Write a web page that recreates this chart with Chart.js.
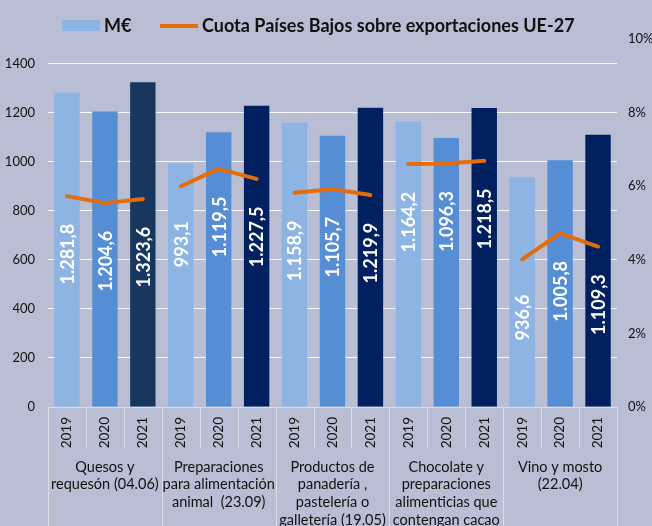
<!DOCTYPE html>
<html>
<head>
<meta charset="utf-8">
<script src="https://cdn.jsdelivr.net/npm/chart.js@4.4.1/dist/chart.umd.min.js"></script>
<style>
  html, body { margin:0; padding:0; background:#B9BED4; }
  canvas { display:block; }
</style>
</head>
<body>
<canvas id="chart" width="652" height="526"></canvas>
<script>
// data
const groups = [
  ['Quesos y', 'requesón (04.06)'],
  ['Preparaciones', 'para alimentación', 'animal  (23.09)'],
  ['Productos de', 'panadería ,', 'pastelería o', 'galletería (19.05)'],
  ['Chocolate y', 'preparaciones', 'alimenticias que', 'contengan cacao'],
  ['Vino y mosto', '(22.04)']
];
const years = ['2019', '2020', '2021'];
const valuesMEUR = [1281.8, 1204.6, 1323.6,  993.1, 1119.5, 1227.5,  1158.9, 1105.7, 1219.9,  1164.2, 1096.3, 1218.5,  936.6, 1005.8, 1109.3];
const sharePct   = [5.73, 5.54, 5.65,  6.00, 6.47, 6.20,  5.82, 5.92, 5.76,  6.60, 6.62, 6.69,  4.01, 4.72, 4.36];
const legendBar  = 'M€';
const legendLine = 'Cuota Países Bajos sobre exportaciones UE-27';

const yearColors = ['#8EB4E3', '#558ED5', '#002060'];
const ORANGE = '#E46C0A';
const TEXT = '#111111';
const SEP = '#DADCE6';

const labels = [];
groups.forEach(() => years.forEach(y => labels.push(y)));
const barColors = labels.map((l, i) => yearColors[i % 3]);
barColors[2] = '#17375E';

function fmt(v) {
  const [i, d] = v.toFixed(1).split('.');
  return i.replace(/\B(?=(\d{3})+(?!\d))/g, '.') + ',' + d;
}

const decor = {
  id: 'decor',
  afterDatasetsDraw(chart) {
    const ctx = chart.ctx;
    const yR = chart.scales.yR;
    const bars = chart.getDatasetMeta(1).data;
    ctx.save();
    ctx.fillStyle = '#FFFFFF';
    ctx.font = 'bold 18px Lato';
    ctx.textAlign = 'center';
    ctx.textBaseline = 'middle';
    bars.forEach((b, i) => {
      const cy = yR.getPixelForValue(sharePct[i]) + 58;
      ctx.save();
      ctx.translate(b.x, cy);
      ctx.rotate(-Math.PI / 2);
      ctx.fillText(fmt(valuesMEUR[i]), 0, 1);
      ctx.restore();
    });
    ctx.restore();
  },
  afterDraw(chart) {
    const ctx = chart.ctx;
    const x = chart.scales.x;
    const area = chart.chartArea;
    const half = (x.getPixelForValue(1) - x.getPixelForValue(0)) / 2;
    ctx.save();
    // axis line and separators
    ctx.strokeStyle = SEP;
    ctx.lineWidth = 1;
    ctx.beginPath();
    ctx.moveTo(area.left, area.bottom + 0.5);
    ctx.lineTo(area.right, area.bottom + 0.5);
    for (let i = 0; i <= labels.length; i++) {
      const px = Math.round(x.getPixelForValue(i) - half) + 0.5;
      const long = i % 3 === 0;
      ctx.moveTo(px, area.bottom);
      ctx.lineTo(px, long ? chart.height : area.bottom + 41);
    }
    ctx.stroke();
    // group labels
    ctx.fillStyle = TEXT;
    ctx.font = '14.5px Lato';
    ctx.textAlign = 'center';
    ctx.textBaseline = 'middle';
    groups.forEach((lines, g) => {
      const cx = x.getPixelForValue(g * 3 + 1);
      lines.forEach((t, k) => ctx.fillText(t, cx, area.bottom + 60 + k * 17.7));
    });
    // legend
    ctx.font = 'bold 18px Lato';
    ctx.textAlign = 'left';
    ctx.fillStyle = yearColors[0];
    ctx.fillRect(62, 20, 38, 11);
    ctx.fillStyle = TEXT;
    ctx.fillText(legendBar, 104, 26);
    ctx.strokeStyle = ORANGE;
    ctx.lineWidth = 4;
    ctx.beginPath();
    ctx.moveTo(160, 26);
    ctx.lineTo(198, 26);
    ctx.stroke();
    ctx.fillText(legendLine, 202, 26);
    ctx.restore();
  }
};

Chart.defaults.font.family = 'Lato';
Chart.defaults.color = TEXT;

new Chart(document.getElementById('chart'), {
  data: {
    labels: labels,
    datasets: [
      {
        type: 'line', label: legendLine, data: sharePct, yAxisID: 'yR', order: 0,
        borderColor: ORANGE, borderWidth: 4, pointRadius: 0, tension: 0,
        borderCapStyle: 'round', borderJoinStyle: 'round',
        segment: { borderColor: c => c.p0DataIndex % 3 === 2 ? 'rgba(0,0,0,0)' : ORANGE }
      },
      {
        type: 'bar', label: legendBar, data: valuesMEUR, yAxisID: 'y', order: 1,
        backgroundColor: barColors, categoryPercentage: 1, barPercentage: 0.67
      }
    ]
  },
  options: {
    responsive: false,
    animation: false,
    layout: { padding: { top: 39, left: 0, right: 0, bottom: 0 } },
    plugins: { legend: { display: false }, tooltip: { enabled: false } },
    scales: {
      x: {
        grid: { display: false, drawTicks: false }, border: { display: false },
        ticks: { autoSkip: false, minRotation: 90, maxRotation: 90, padding: 10, font: { size: 13.5 }, color: TEXT },
        afterFit: s => { s.height = 119; }
      },
      y: {
        position: 'left', min: 0, max: 1500,
        grid: { color: 'rgba(255,255,255,0.9)', lineWidth: 1, drawTicks: false },
        border: { display: false },
        ticks: { stepSize: 200, padding: 13, font: { size: 13 }, color: TEXT, callback: v => String(v) },
        afterBuildTicks: s => { s.ticks = s.ticks.filter(t => t.value <= 1400); },
        afterFit: s => { s.width = 48; }
      },
      yR: {
        position: 'right', min: 0, max: 10,
        grid: { display: false, drawTicks: false }, border: { display: false },
        ticks: { stepSize: 2, padding: 11, font: { size: 13 }, color: TEXT, callback: v => v + '%' },
        afterFit: s => { s.width = 35; }
      }
    }
  },
  plugins: [decor]
});
</script>
</body>
</html>
